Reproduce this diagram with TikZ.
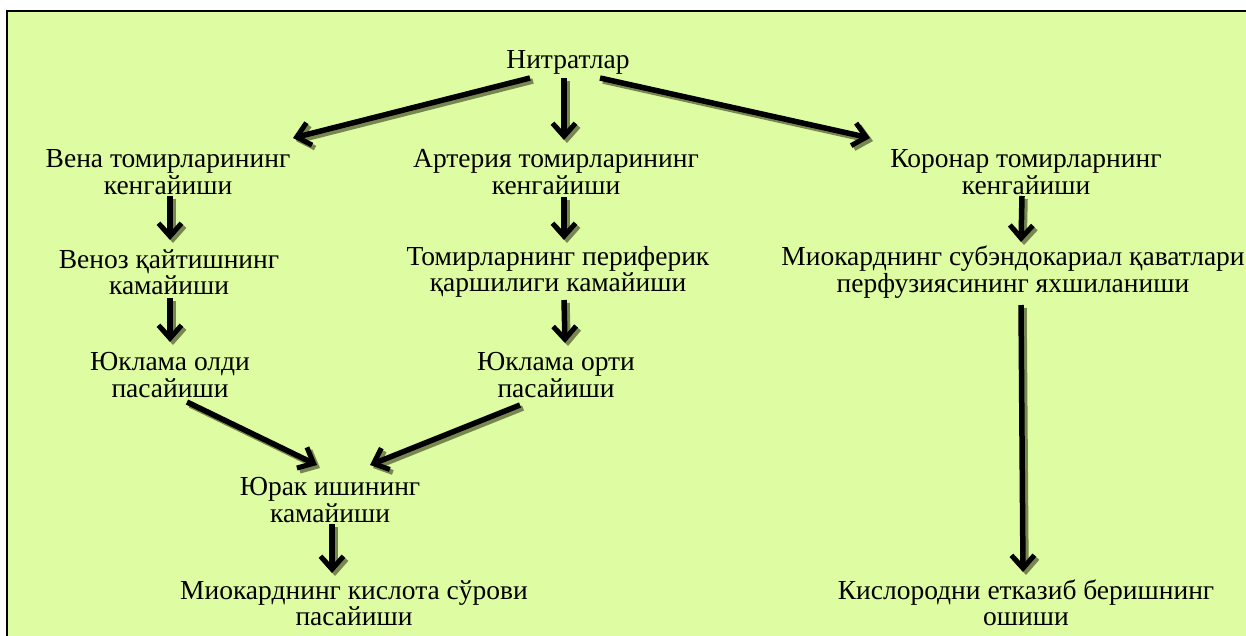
\documentclass[tikz,border=0pt]{standalone}
\usepackage{fontspec}
\setmainfont{Liberation Serif}
\usetikzlibrary{arrows.meta,calc}
\definecolor{bgc}{RGB}{222,252,162}
\definecolor{shc}{RGB}{120,135,80}
\tikzset{
  txt/.style={align=center,font=\fontsize{27.5}{26.5}\selectfont,inner sep=0pt},
  arr/.style={line width=5.5pt,-{Straight Barb[length=13pt,width=23pt,line width=5pt]}},
  arrsh/.style={arr,draw=shc,transform canvas={shift={(3pt,-3pt)}}}
}
\newcommand{\arw}[2]{\draw[arrsh] #1 -- #2; \draw[arr] #1 -- #2;}
\begin{document}
\begin{tikzpicture}[x=1pt,y=-1pt]
\useasboundingbox (0,0) rectangle (1246,635);
\fill[white] (0,0) rectangle (1246,635);
\draw[line width=2.5pt,fill=bgc] (7,11) rectangle (1265,660);
\node[txt] (nit) at (568,62) {Нитратлар};
\node[txt] (vena) at (168,172) {Вена томирларининг\\кенгайиши};
\node[txt] (art) at (556,172) {Артерия томирларининг\\кенгайиши};
\node[txt] (kor) at (1026,172) {Коронар томирларнинг\\кенгайиши};
\node[txt] (venoz) at (169,272) {Веноз қайтишнинг\\камайиши};
\node[txt] (tom) at (558,272) {Томирларнинг периферик\\қаршилиги камайиши};
\node[txt] (mio) at (1013,272) {Миокарднинг субэндокариал қаватлари\\перфузиясининг яхшиланиши};
\node[txt] (yold) at (170,375) {Юклама олди\\пасайиши};
\node[txt] (yort) at (556,375) {Юклама орти\\пасайиши};
\node[txt] (yurak) at (330,500) {Юрак ишининг\\камайиши};
\node[txt] (kisl) at (354,603) {Миокарднинг кислота сўрови\\пасайиши};
\node[txt] (kisr) at (1026,603) {Кислородни етказиб беришнинг\\ошиши};
\arw{($(nit)+(-38,16)$)}{($(vena)+(125,-34)$)}
\arw{($(nit)+(-4,16)$)}{($(art)+(8,-32)$)}
\arw{($(nit)+(32,16)$)}{($(kor)+(-156,-34)$)}
\arw{($(vena)+(2,24)$)}{($(venoz)+(1,-32)$)}
\arw{($(art)+(8,25)$)}{($(tom)+(6,-32)$)}
\arw{($(kor)+(-4,24)$)}{($(mio)+(8,-30)$)}
\arw{($(venoz)+(1,26)$)}{($(yold)+(0,-33)$)}
\arw{($(tom)+(6,28)$)}{($(yort)+(9,-32)$)}
\arw{($(yold)+(17,27)$)}{($(yurak)+(-13,-35)$)}
\arw{($(yort)+(-36,30)$)}{($(yurak)+(40,-35)$)}
\arw{($(yurak)+(2,24)$)}{($(kisl)+(-22,-30)$)}
\arw{($(mio)+(8,33)$)}{($(kisr)+(-3,-31)$)}
\end{tikzpicture}
\end{document}
